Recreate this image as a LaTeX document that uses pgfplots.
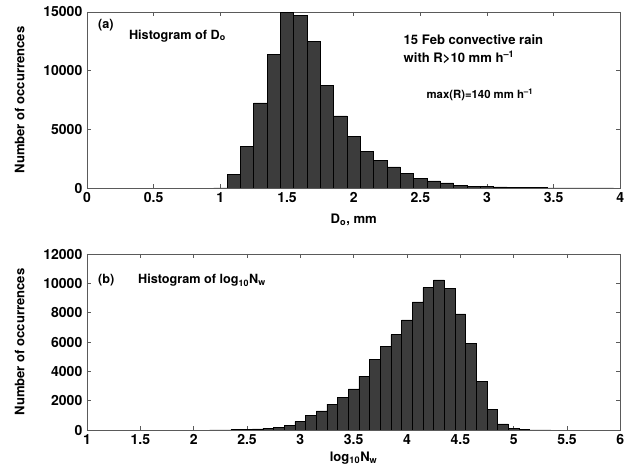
\documentclass[border=0pt]{standalone}
\usepackage{fontspec}
\setmainfont{TeX Gyre Heros}
\usepackage{pgfplots}
\pgfplotsset{compat=1.18}
\definecolor{barfill}{RGB}{60,60,60}
\definecolor{frame}{RGB}{90,90,90}
\pgfplotsset{
  myhist/.style={
    scale only axis, width=400pt, height=132pt,
    axis line style={frame, line width=0.6pt},
    tick align=inside, tick pos=both, major tick length=3pt,
    every tick/.style={frame, line width=0.6pt},
    xticklabel style={font=\fontsize{10.5}{12}\selectfont\bfseries},
    yticklabel style={font=\fontsize{10.5}{12}\selectfont\bfseries},
    /pgf/number format/assume math mode=true,
    /pgf/number format/1000 sep={},
    scaled y ticks=false,
    ymin=0,
    every axis y label/.style={at={(axis description cs:-0.126,0.5)}, rotate=90, anchor=center, font=\fontsize{9.8}{12}\selectfont\bfseries},
    ylabel={Number of occurrences},
  },
  mybar/.style={ybar, bar width=0.1, bar shift=0pt, fill=barfill, draw=black, line width=0.4pt},
}
\begin{document}
\bfseries
\begin{tikzpicture}
\useasboundingbox (0,0) rectangle (476.25pt,355.5pt);
% top panel
\begin{axis}[myhist, at={(65.25pt,214.5pt)}, anchor=south west,
  xmin=0, xmax=4, ymax=15000,
  xtick={0,0.5,...,4}, ytick={0,5000,10000,15000},
  xticklabels={0,0.5,1,1.5,2,2.5,3,3.5,4},
  every axis x label/.style={at={(axis description cs:0.5,-0.18)}, anchor=center, font=\fontsize{9.8}{12}\selectfont\bfseries},
  xlabel={D\textsubscript{o}, mm}]
\addplot[mybar] coordinates {
(1.0,10) (1.1,1170) (1.2,3540) (1.3,7260) (1.4,11370) (1.5,14950) (1.6,14690)
(1.7,12510) (1.8,8740) (1.9,6140) (2.0,4400) (2.1,3110) (2.2,2340) (2.3,1800)
(2.4,1240) (2.5,800) (2.6,600) (2.7,430) (2.8,240) (2.9,150) (3.0,140)
(3.1,90) (3.2,40) (3.3,30) (3.4,20) (3.5,15) (3.6,10) (3.7,8) (3.8,5) (3.9,3)
};
\node[anchor=west, font=\fontsize{9.5}{11}\selectfont\bfseries] at (rel axis cs:0.012,0.926) {(a)};
\node[anchor=west, font=\fontsize{9.5}{11}\selectfont\bfseries] at (rel axis cs:0.07,0.864) {Histogram of D\textsubscript{o}};
\node[anchor=west, font=\fontsize{9.8}{11}\selectfont\bfseries] at (rel axis cs:0.585,0.84) {15 Feb convective rain};
\node[anchor=west, font=\fontsize{9.8}{11}\selectfont\bfseries] at (rel axis cs:0.585,0.74) {with R>10 mm h\textsuperscript{--1}};
\node[anchor=west, font=\fontsize{8.5}{10}\selectfont\bfseries] at (rel axis cs:0.628,0.53) {max(R)=140 mm h\textsuperscript{--1}};
\end{axis}
% bottom panel
\begin{axis}[myhist, at={(65.25pt,33pt)}, anchor=south west,
  xmin=1, xmax=6, ymax=12000,
  xtick={1,1.5,...,6}, ytick={0,2000,...,12000},
  xticklabels={1,1.5,2,2.5,3,3.5,4,4.5,5,5.5,6},
  every axis x label/.style={at={(axis description cs:0.5,-0.16)}, anchor=center, font=\fontsize{9.8}{12}\selectfont\bfseries},
  xlabel={log\textsubscript{10}N\textsubscript{w}}]
\addplot[mybar] coordinates {
(2.2,5) (2.3,10) (2.4,20) (2.5,35) (2.6,70) (2.7,110) (2.8,180) (2.9,320)
(3.0,570) (3.1,1020) (3.2,1300) (3.3,1770) (3.4,2200) (3.5,2800) (3.6,3680)
(3.7,4800) (3.8,5680) (3.9,6500) (4.0,7500) (4.1,8730) (4.2,9700) (4.3,10230)
(4.4,9640) (4.5,7910) (4.6,5890) (4.7,3320) (4.8,1430) (4.9,410) (5.0,90)
(5.1,20) (5.2,10) (5.3,5)
};
\node[anchor=west, font=\fontsize{9.5}{11}\selectfont\bfseries] at (rel axis cs:0.012,0.85) {(b)};
\node[anchor=west, font=\fontsize{9.5}{11}\selectfont\bfseries] at (rel axis cs:0.087,0.85) {Histogram of log\textsubscript{10}N\textsubscript{w}};
\end{axis}
\end{tikzpicture}
\end{document}
